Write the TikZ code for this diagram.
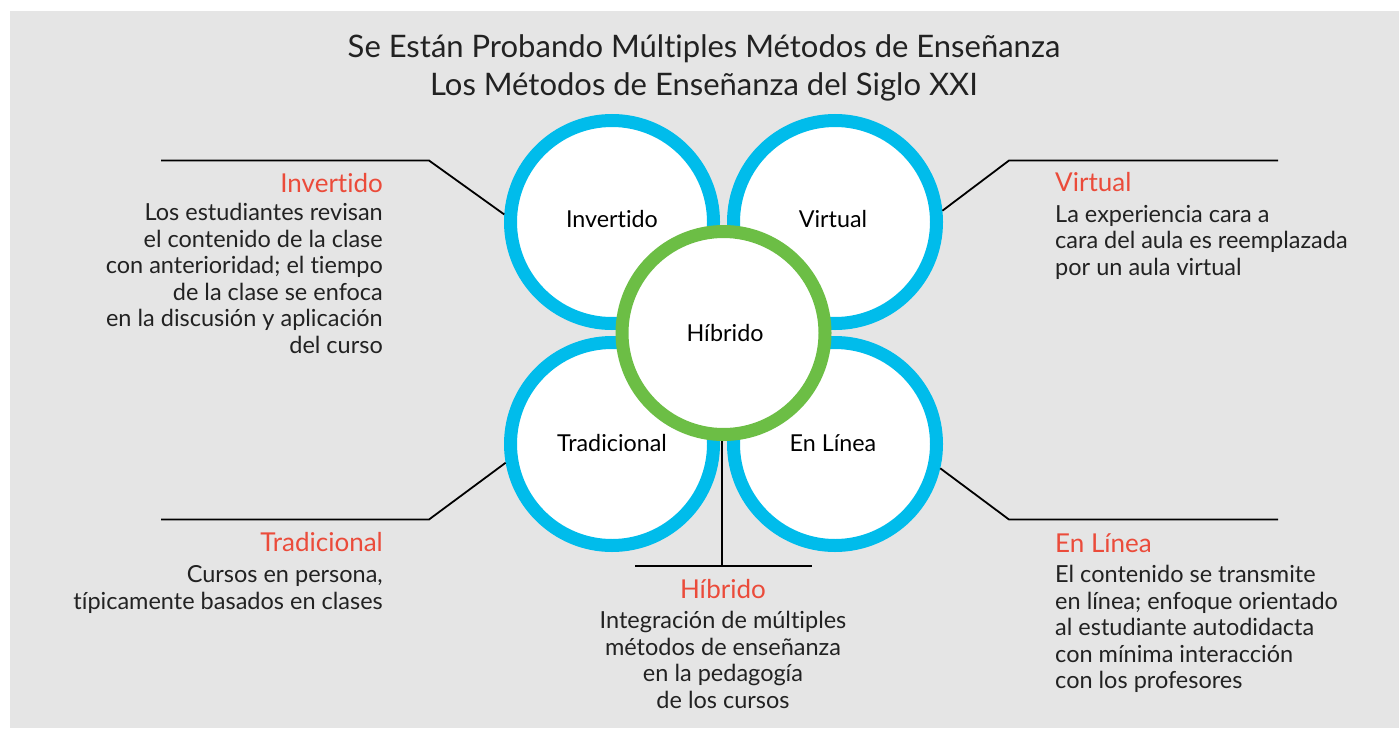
\documentclass[tikz,border=0pt]{standalone}
\usepackage{fontspec}
\setmainfont{Lato}[Ligatures=NoCommon]
\newfontfamily\circfont{Lato}[Ligatures=NoCommon]
\definecolor{bgcol}{HTML}{E5E5E5}
\definecolor{cblue}{HTML}{00BCEB}
\definecolor{cgreen}{HTML}{6CBE45}
\definecolor{cred}{HTML}{EB4B3A}
\definecolor{ctext}{HTML}{222222}
\tikzset{
  petal/.style={circle, draw=cblue, fill=white, line width=13pt, minimum size=203pt, inner sep=0pt},
  hub/.style={circle, draw=cgreen, fill=white, line width=13pt, minimum size=203pt, inner sep=0pt},
  circlabel/.style={font=\circfont\fontsize{23.3}{26}\selectfont, text=black, inner sep=0pt},
  heading/.style={font=\fontsize{26}{30}\selectfont, text=cred, inner sep=0pt},
  body/.style={font=\fontsize{23.5}{26.5}\selectfont, text=ctext, inner sep=0pt},
  titletext/.style={font=\fontsize{31}{38}\selectfont, text=ctext, inner sep=0pt, align=center},
  leader/.style={line width=1.8pt, black},
}
\begin{document}
\begin{tikzpicture}[x=1pt,y=-1pt]
\useasboundingbox (0,0) rectangle (1399,728);
\fill[bgcol] (10,11) rectangle (1399,728);

% title
\node[titletext, anchor=base] (title1) at (704,57) {Se Están Probando Múltiples Métodos de Enseñanza};
\node[titletext, anchor=base] (title2) at (704,95) {Los Métodos de Enseñanza del Siglo XXI};

% coordinates for leaders
\coordinate (kinv) at (429,160.5);
\coordinate (einv) at (161,160.5);
\coordinate (kvir) at (1009,160.5);
\coordinate (evir) at (1278,160.5);
\coordinate (ktra) at (429,519.5);
\coordinate (etra) at (161,519.5);
\coordinate (konl) at (1009,519.5);
\coordinate (eonl) at (1278,519.5);
\coordinate (hbl) at (635,566);
\coordinate (hbr) at (812,566);
\coordinate (hbm) at (722,566);

% hub vertical leader (behind circles)
\coordinate (hubc) at (722,333);
\draw[leader] (hubc) -- (hbm);
\draw[leader] (hbl) -- (hbr);

% petals
\node[petal] (inv) at (612,222) {};
\node[petal] (vir) at (835,222) {};
\node[petal] (tra) at (612,444) {};
\node[petal] (onl) at (835,444) {};
\node[hub] (hyb) at (723.5,333) {};

\node[circlabel, anchor=base] (linv) at (612,227.5) {Invertido};
\node[circlabel, anchor=base] (lvir) at (833,227.5) {Virtual};
\node[circlabel, anchor=base] (ltra) at (612,451.5) {Tradicional};
\node[circlabel, anchor=base] (lonl) at (833,451.5) {En Línea};
\node[circlabel, anchor=base] (lhyb) at (725,341.5) {Híbrido};

% leaders
\draw[leader] (einv) -- (kinv) -- (inv.176);
\draw[leader] (evir) -- (kvir) -- (vir.6);
\draw[leader] (etra) -- (ktra) -- (tra.190);
\draw[leader] (eonl) -- (konl) -- (onl.-13);

% descriptions (base anchor = baseline of last line)
\node[heading, anchor=base east] (hinv) at (383,192) {Invertido};
\node[body, anchor=base east, align=right] (binv) at (383,353) {Los estudiantes revisan\\el contenido de la clase\\con anterioridad; el tiempo\\de la clase se enfoca\\en la discusión y aplicación\\del curso};

\node[heading, anchor=base west] (hvir) at (1055,191) {Virtual};
\node[body, anchor=base west, align=left] (bvir) at (1055,275) {La experiencia cara a\\cara del aula es reemplazada\\por un aula virtual};

\node[heading, anchor=base east] (htra) at (383,551) {Tradicional};
\node[body, anchor=base east, align=right] (btra) at (383,609) {Cursos en persona,\\típicamente basados en clases};

\node[heading, anchor=base west] (honl) at (1055,552) {En Línea};
\node[body, anchor=base west, align=left] (bonl) at (1055,688.7) {El contenido se transmite\\en línea; enfoque orientado\\al estudiante autodidacta\\con mínima interacción\\con los profesores};

\node[heading, anchor=base] (hhyb) at (723,598) {Híbrido};
\node[body, anchor=base, align=center] (bhyb) at (723,708) {Integración de múltiples\\métodos de enseñanza\\en la pedagogía\\de los cursos};
\end{tikzpicture}
\end{document}
